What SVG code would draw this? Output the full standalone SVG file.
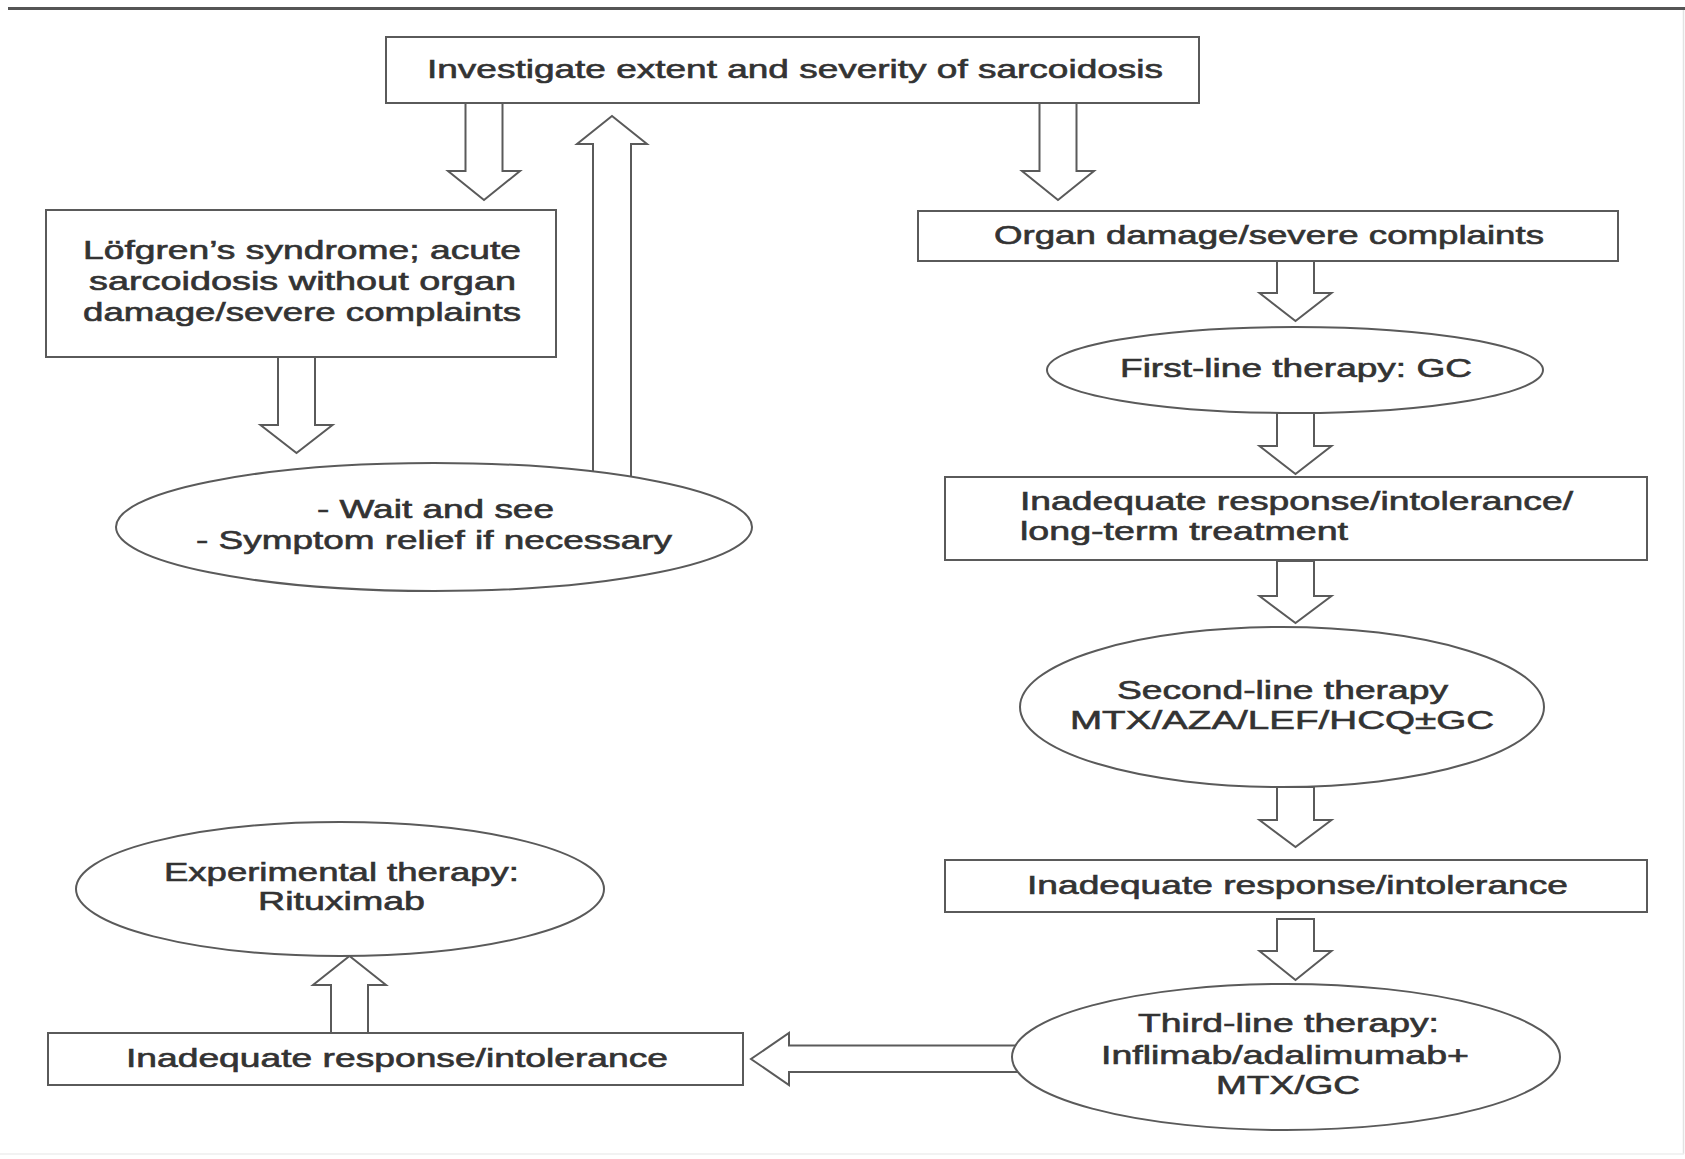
<svg xmlns="http://www.w3.org/2000/svg" width="1685" height="1159" viewBox="0 0 1685 1159">
<style>
.box{fill:#fff;stroke:#5a5a5a;stroke-width:2}
.arr{fill:#fff;stroke:#5a5a5a;stroke-width:2;stroke-linejoin:miter}
.t{font-family:"Liberation Sans",Arial,sans-serif;font-size:25.5px;fill:#333;stroke:#333;stroke-width:0.6;text-anchor:middle}
.ts{font-family:"Liberation Sans",Arial,sans-serif;font-size:25.5px;fill:#333;stroke:#333;stroke-width:0.6;text-anchor:start}
</style>
<rect x="0" y="0" width="1685" height="1159" fill="#fff"/>
<line x1="8" y1="8.5" x2="1685" y2="8.5" stroke="#555" stroke-width="3"/>
<line x1="1683.5" y1="10" x2="1683.5" y2="1154" stroke="#e2e2e2" stroke-width="1.5"/>
<line x1="0" y1="1154" x2="1684" y2="1154" stroke="#eeeeee" stroke-width="1.5"/>
<g id="connectors">
<polygon class="arr" points="465.5,103 502.5,103 502.5,171 520,171 484,200 448,171 465.5,171"/>
<polygon class="arr" points="593,485 631,485 631,144 647,144 612,116 577,144 593,144"/>
<polygon class="arr" points="278,357 315,357 315,425 332.5,425 296.5,453 260.5,425 278,425"/>
<polygon class="arr" points="1039.5,103 1076.5,103 1076.5,171 1094,171 1058,200 1022,171 1039.5,171"/>
<polygon class="arr" points="1277,261 1314,261 1314,293 1331.5,293 1295.5,321 1259.5,293 1277,293"/>
<polygon class="arr" points="1277,413 1314,413 1314,446 1331.5,446 1295.5,474 1259.5,446 1277,446"/>
<polygon class="arr" points="1277,561 1314,561 1314,596 1331.5,596 1295.5,623 1259.5,596 1277,596"/>
<polygon class="arr" points="1277,787 1314,787 1314,820 1331.5,820 1295.5,847 1259.5,820 1277,820"/>
<polygon class="arr" points="1277,919 1314,919 1314,951 1331.5,951 1295.5,980 1259.5,951 1277,951"/>
<polygon class="arr" points="1025,1045.5 789,1045.5 789,1033 751,1059 789,1085 789,1072 1025,1072"/>
<polygon class="arr" points="331,1033 368,1033 368,985 386,985 349.5,956 313,985 331,985"/>
</g>
<g id="n1">
<rect class="box" x="386" y="37" width="813" height="66"/>
<text class="t" x="795" y="78" textLength="736" lengthAdjust="spacingAndGlyphs">Investigate extent and severity of sarcoidosis</text>
</g>
<g id="n2">
<rect class="box" x="46" y="210" width="510" height="147"/>
<text class="t" x="302" y="259" textLength="438" lengthAdjust="spacingAndGlyphs">Löfgren’s syndrome; acute</text>
<text class="t" x="302.5" y="290" textLength="427" lengthAdjust="spacingAndGlyphs">sarcoidosis without organ</text>
<text class="t" x="302" y="321" textLength="438" lengthAdjust="spacingAndGlyphs">damage/severe complaints</text>
</g>
<g id="n3">
<ellipse class="box" cx="434" cy="527" rx="318" ry="64"/>
<text class="t" x="435.5" y="518" textLength="237" lengthAdjust="spacingAndGlyphs">- Wait and see</text>
<text class="t" x="434" y="549" textLength="476" lengthAdjust="spacingAndGlyphs">- Symptom relief if necessary</text>
</g>
<g id="n4">
<rect class="box" x="918" y="211" width="700" height="50"/>
<text class="t" x="1269" y="244" textLength="550" lengthAdjust="spacingAndGlyphs">Organ damage/severe complaints</text>
</g>
<g id="n5">
<ellipse class="box" cx="1295" cy="370" rx="248" ry="43"/>
<text class="t" x="1296" y="377" textLength="352" lengthAdjust="spacingAndGlyphs">First-line therapy: GC</text>
</g>
<g id="n6">
<rect class="box" x="945" y="477" width="702" height="83"/>
<text class="ts" x="1020" y="510" textLength="553" lengthAdjust="spacingAndGlyphs">Inadequate response/intolerance/</text>
<text class="ts" x="1020" y="540" textLength="328" lengthAdjust="spacingAndGlyphs">long-term treatment</text>
</g>
<g id="n7">
<ellipse class="box" cx="1282" cy="707" rx="262" ry="80"/>
<text class="t" x="1282.5" y="699" textLength="331" lengthAdjust="spacingAndGlyphs">Second-line therapy</text>
<text class="t" x="1282" y="729" textLength="424" lengthAdjust="spacingAndGlyphs">MTX/AZA/LEF/HCQ±GC</text>
</g>
<g id="n8">
<rect class="box" x="945" y="860" width="702" height="52"/>
<text class="t" x="1297.5" y="894" textLength="541" lengthAdjust="spacingAndGlyphs">Inadequate response/intolerance</text>
</g>
<g id="n9">
<ellipse class="box" cx="1286" cy="1057" rx="274" ry="73"/>
<text class="t" x="1288.5" y="1032" textLength="301" lengthAdjust="spacingAndGlyphs">Third-line therapy:</text>
<text class="t" x="1285" y="1064" textLength="368" lengthAdjust="spacingAndGlyphs">Inflimab/adalimumab+</text>
<text class="t" x="1288" y="1094" textLength="144" lengthAdjust="spacingAndGlyphs">MTX/GC</text>
</g>
<g id="n10">
<rect class="box" x="48" y="1033" width="695" height="52"/>
<text class="t" x="397" y="1067" textLength="542" lengthAdjust="spacingAndGlyphs">Inadequate response/intolerance</text>
</g>
<g id="n11">
<ellipse class="box" cx="340" cy="889" rx="264" ry="67"/>
<text class="t" x="341.5" y="881" textLength="355" lengthAdjust="spacingAndGlyphs">Experimental therapy:</text>
<text class="t" x="341.5" y="910" textLength="167" lengthAdjust="spacingAndGlyphs">Rituximab</text>
</g>
</svg>
